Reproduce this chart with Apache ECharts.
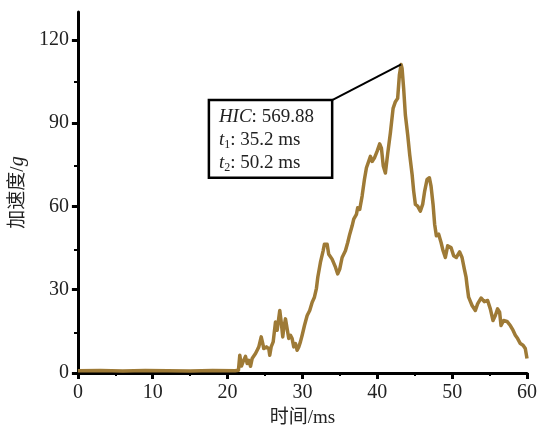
<!DOCTYPE html>
<html><head><meta charset="utf-8">
<script src="https://cdn.jsdelivr.net/npm/echarts@6/dist/echarts.min.js"></script>
<style>html,body{margin:0;padding:0;background:#fff}#c{width:540px;height:433px}</style>
</head><body><div id="c"></div>
<script>
const timeMs = [0,3,6,9,12,15,18,21,21.45,21.63,21.85,22.06,22.39,22.62,22.83,23.06,23.28,23.73,23.95,24.17,24.49,24.70,24.83,25.19,25.50,25.63,25.82,26.09,26.40,26.62,26.97,27.16,27.37,27.50,27.73,27.95,28.17,28.40,28.62,28.84,29.07,29.29,29.51,29.73,29.96,30.27,30.63,30.97,31.30,31.60,31.87,32.05,32.40,32.76,32.94,33.30,33.51,33.96,34.41,34.71,34.98,35.30,35.74,36.05,36.32,36.64,36.85,37.21,37.38,37.65,37.97,38.28,38.55,38.85,39.08,39.31,39.61,39.97,40.32,40.55,40.80,41.08,41.39,41.75,42.11,42.42,42.72,42.95,43.18,43.31,43.52,43.75,44.06,44.33,44.65,44.86,45.09,45.39,45.75,46.06,46.33,46.65,46.96,47.18,47.45,47.66,47.89,48.20,48.52,48.79,49.09,49.40,49.85,50.20,50.56,51.00,51.32,51.63,51.86,51.99,52.20,52.66,53.10,53.40,53.86,54.30,54.74,55.10,55.46,55.77,56.07,56.34,56.53,56.88,57.33,57.77,58.13,58.44,58.75,59.11,59.47,59.77,60.0];
const accelG = [0.8,0.9,0.7,0.9,0.8,0.7,0.9,0.8,1.0,6.4,2.5,4.0,6.0,3.4,4.6,2.4,5.2,7.0,8.2,9.4,13.0,10.6,8.8,9.4,8.8,6.4,9.4,11.2,18.4,15.4,22.5,18.4,13.0,16.0,19.5,16.0,12.4,13.6,12.4,9.4,10.6,8.2,9.4,11.2,13.6,17.1,20.7,22.5,25.5,27.3,30.5,34.5,39.8,44.0,46.4,46.4,42.8,41.0,38.1,35.7,37.4,41.6,44.0,47.0,50.0,53.0,55.4,57.1,59.5,58.9,63.7,69.7,73.9,76.2,78.0,76.2,77.4,79.8,82.5,81.0,74.5,72.0,79.0,86.5,95.3,97.7,98.9,107.3,111.1,109.7,102.5,92.9,85.8,78.6,71.5,65.5,60.7,60.1,58.3,60.7,65.5,69.7,70.3,67.3,60.7,53.6,49.4,50.0,47.0,44.0,41.6,45.8,45.2,42.2,41.6,43.6,41.6,37.4,34.5,31.5,27.3,24.3,22.5,24.9,27.0,25.7,26.1,23.1,18.9,20.7,23.1,21.9,17.1,18.9,18.6,17.1,15.4,13.6,12.4,10.6,10.0,8.8,5.2];
const xTicks = [0,10,20,30,40,50,60];
const yTicks = [0,30,60,90,120];
const yMinorTicks = [15,45,75,105];
const peakPoint = [43.18, 111.1];
const boxCorner = [33.97, 98.3];
const boxTopLeft = [17.5, 98.3];
const boxBottomRight = [33.97, 70.3];
const boxLines = ['{i|HIC}: 569.88', '{i|t}{sub|1}: 35.2 ms', '{i|t}{sub|2}: 50.2 ms'];

const serif = "'Liberation Serif','Noto Sans CJK SC',serif";
const chart = echarts.init(document.getElementById('c'), null, {renderer:'canvas'});
const gridPos = {left:77, right:13, top:12, bottom:58, containLabel:false};
const black = '#000';
chart.setOption({
  animation:false,
  backgroundColor:'#fff',
  grid:[Object.assign({}, gridPos), Object.assign({}, gridPos)],
  xAxis:[{
    type:'value', gridIndex:0, min:0, max:60, interval:10,
    axisLine:{show:true, onZero:false, lineStyle:{color:black, width:3}},
    axisTick:{show:true, inside:false, length:6, lineStyle:{color:black, width:3}, customValues:xTicks},
    minorTick:{show:true, splitNumber:2, length:3, lineStyle:{color:black, width:2}},
    axisLabel:{color:'#222', fontFamily:serif, fontSize:20, margin:10, customValues:xTicks},
    splitLine:{show:false},
    name:'时间/ms', nameLocation:'middle', nameGap:36,
    nameTextStyle:{color:'#222', fontFamily:serif, fontSize:19}
  },{
    type:'value', gridIndex:1, min:0, max:60, show:false
  }],
  yAxis:[{
    type:'value', gridIndex:0, min:0, max:130, interval:30,
    axisLine:{show:true, onZero:false, lineStyle:{color:black, width:3}},
    axisTick:{show:true, inside:false, length:6, lineStyle:{color:black, width:3}, customValues:yTicks},
    axisLabel:{color:'#222', fontFamily:serif, fontSize:20, margin:9, customValues:yTicks},
    splitLine:{show:false},
    name:'加速度/{i|g}', nameLocation:'middle', nameGap:44,
    nameTextStyle:{color:'#222', fontFamily:serif, fontSize:19,
      rich:{i:{fontStyle:'italic', fontFamily:serif, fontSize:20, color:'#222'}}}
  },{
    type:'value', gridIndex:1, min:0, max:130, position:'left',
    axisLine:{show:false},
    axisTick:{show:true, inside:false, length:3, lineStyle:{color:black, width:2}, customValues:yMinorTicks},
    axisLabel:{show:false},
    splitLine:{show:false}
  }],
  series:[{
    type:'line', xAxisIndex:0, yAxisIndex:0,
    data: timeMs.map((t,i)=>[t, accelG[i]]),
    showSymbol:false, symbol:'none', smooth:false,
    lineStyle:{color:'#9e7a36', width:3.5, join:'round'},
    z:3,
    markLine:{
      silent:true, symbol:['none','none'], animation:false,
      lineStyle:{color:black, width:2, type:'solid'},
      label:{show:false},
      data:[[{coord:peakPoint}, {coord:boxCorner}]]
    }
  }]
});

const tl = chart.convertToPixel({gridIndex:0}, boxTopLeft);
const br = chart.convertToPixel({gridIndex:0}, boxBottomRight);
chart.setOption({
  graphic:[{
    type:'group', z:100,
    children:[{
      type:'rect', shape:{x:tl[0], y:tl[1], width:br[0]-tl[0], height:br[1]-tl[1]},
      style:{fill:'#fff', stroke:black, lineWidth:2.5}
    },{
      type:'text', x:tl[0]+10, y:tl[1]+5,
      style:{
        text: boxLines.join('\n'),
        fontFamily:serif, fontSize:19, lineHeight:23, fill:'#222',
        rich:{
          i:{fontStyle:'italic', fontFamily:serif, fontSize:19, lineHeight:23, fill:'#222'},
          sub:{fontFamily:serif, fontSize:12, lineHeight:14, verticalAlign:'bottom', fill:'#222'}
        }
      }
    }]
  }]
});
</script>
</body></html>
